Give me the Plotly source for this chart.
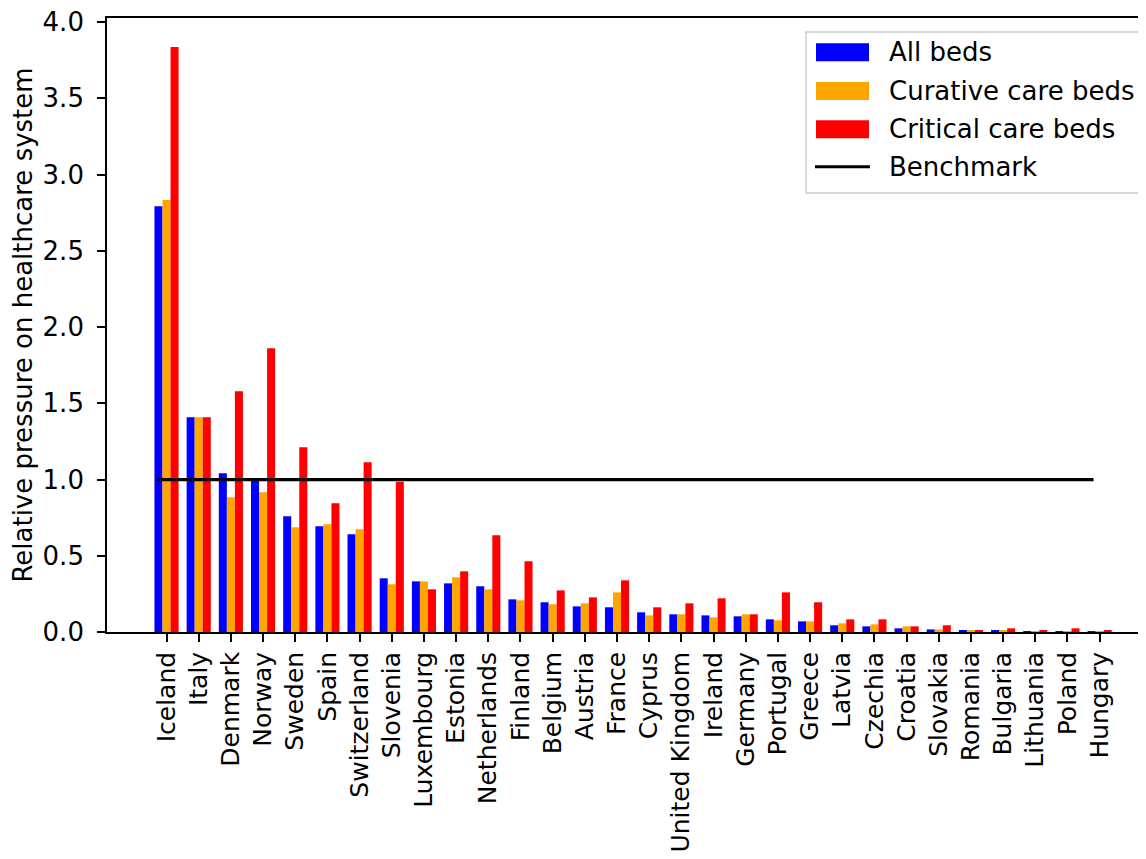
import plotly.graph_objects as go

countries = ["Iceland", "Italy", "Denmark", "Norway", "Sweden", "Spain", "Switzerland",
             "Slovenia", "Luxembourg", "Estonia", "Netherlands", "Finland", "Belgium",
             "Austria", "France", "Cyprus", "United Kingdom", "Ireland", "Germany",
             "Portugal", "Greece", "Latvia", "Czechia", "Croatia", "Slovakia", "Romania",
             "Bulgaria", "Lithuania", "Poland", "Hungary"]

all_beds = [2.793, 1.409, 1.041, 0.99, 0.759, 0.693, 0.641, 0.352, 0.332, 0.319,
            0.300, 0.214, 0.195, 0.168, 0.162, 0.129, 0.116, 0.109, 0.103, 0.083,
            0.070, 0.044, 0.037, 0.024, 0.017, 0.011, 0.011, 0.003, 0.003, 0.002]

curative_beds = [2.833, 1.409, 0.884, 0.916, 0.687, 0.706, 0.674, 0.313, 0.332, 0.359,
                 0.280, 0.208, 0.182, 0.188, 0.260, 0.109, 0.116, 0.096, 0.116, 0.077,
                 0.070, 0.057, 0.050, 0.037, 0.017, 0.011, 0.011, 0.002, 0.002, 0.002]

critical_beds = [3.837, 1.409, 1.579, 1.861, 1.212, 0.844, 1.113, 0.985, 0.280, 0.398,
                 0.634, 0.464, 0.273, 0.227, 0.339, 0.162, 0.188, 0.221, 0.116, 0.260,
                 0.195, 0.083, 0.083, 0.037, 0.044, 0.011, 0.024, 0.011, 0.024, 0.011]

series_names = ["All beds", "Curative care beds", "Critical care beds", "Benchmark"]
series_colors = ["#0000ff", "#ffa500", "#ff0000", "#000000"]
benchmark = 1.0
y_tick_vals = [0.0, 0.5, 1.0, 1.5, 2.0, 2.5, 3.0, 3.5, 4.0]

FONT = "DejaVu Sans"
FS = 26
FSX = 25
OFF = 8  # browser body margin
W, H = 1146 - OFF, 859 - OFF
ML, MR, MT, MB = 107 - OFF, 0, 18 - OFF, 859 - 632

x_idx = list(range(len(countries)))

fig = go.Figure()
for name, vals, col in zip(series_names[:3], [all_beds, curative_beds, critical_beds], series_colors[:3]):
    fig.add_trace(go.Bar(x=x_idx, y=vals, name=name, marker=dict(color=col, line=dict(width=0)),
                         showlegend=False))

fig.add_trace(go.Scatter(x=[x_idx[0] - 0.3, x_idx[-1] - 0.19], y=[benchmark, benchmark],
                         mode="lines", line=dict(color="black", width=3.2),
                         name=series_names[3], showlegend=False))

fig.update_layout(
    width=W, height=H, autosize=False,
    margin=dict(l=ML, r=MR, t=MT, b=MB, pad=0),
    barmode="group", bargap=0.25, bargroupgap=0,
    plot_bgcolor="white", paper_bgcolor="white",
    font=dict(family=FONT, size=FS, color="black"),
)

fig.update_xaxes(range=[-1.85, 30.44], tickmode="array", tickvals=x_idx, ticktext=countries,
                 tickangle=-90, showline=True, linecolor="black", linewidth=1.7, mirror=True,
                 ticks="outside", ticklen=8, tickwidth=1.7, tickcolor="black",
                 showgrid=False, zeroline=False, ticklabelstandoff=0,
                 ticklabeloverflow="allow", automargin=False,
                 tickfont=dict(family=FONT, size=FSX))
fig.update_yaxes(range=[0, 4.027], tickmode="array", tickvals=y_tick_vals,
                 tickformat=".1f", showline=True, linecolor="black", linewidth=1.7,
                 ticks="outside", ticklen=8, tickwidth=1.7, tickcolor="black",
                 showgrid=False, zeroline=False, ticklabelstandoff=8,
                 ticklabeloverflow="allow", automargin=False,
                 tickfont=dict(family=FONT, size=FS),
                 title=dict(text="Relative pressure on healthcare system",
                            font=dict(family=FONT, size=FS), standoff=5))

# custom legend (matplotlib style); positions given in page pixels
pw = W - ML - MR
ph = H - MT - MB
def px(x):
    return (x - OFF - ML) / pw
def py(y):
    return (H - MB - (y - OFF)) / ph

fig.add_shape(type="rect", xref="paper", yref="paper",
              x0=px(806), x1=px(1145), y0=py(193), y1=py(32),
              line=dict(color="#cccccc", width=1.5), fillcolor="rgba(255,255,255,0.8)", layer="above")
rows_y = [52.3, 91.0, 129.3, 166.7]
for i, (name, col) in enumerate(zip(series_names, series_colors)):
    yc = rows_y[i]
    if i < 3:
        fig.add_shape(type="rect", xref="paper", yref="paper",
                      x0=px(816), x1=px(869), y0=py(yc + 9), y1=py(yc - 9),
                      line=dict(width=0), fillcolor=col, layer="above")
    else:
        fig.add_shape(type="line", xref="paper", yref="paper",
                      x0=px(815), x1=px(870), y0=py(yc), y1=py(yc),
                      line=dict(color=col, width=3), layer="above")
    fig.add_annotation(xref="paper", yref="paper", x=px(887), y=py(yc), text=name,
                       showarrow=False, xanchor="left", yanchor="middle",
                       font=dict(family=FONT, size=FS, color="black"))

fig.write_html("out.html")
